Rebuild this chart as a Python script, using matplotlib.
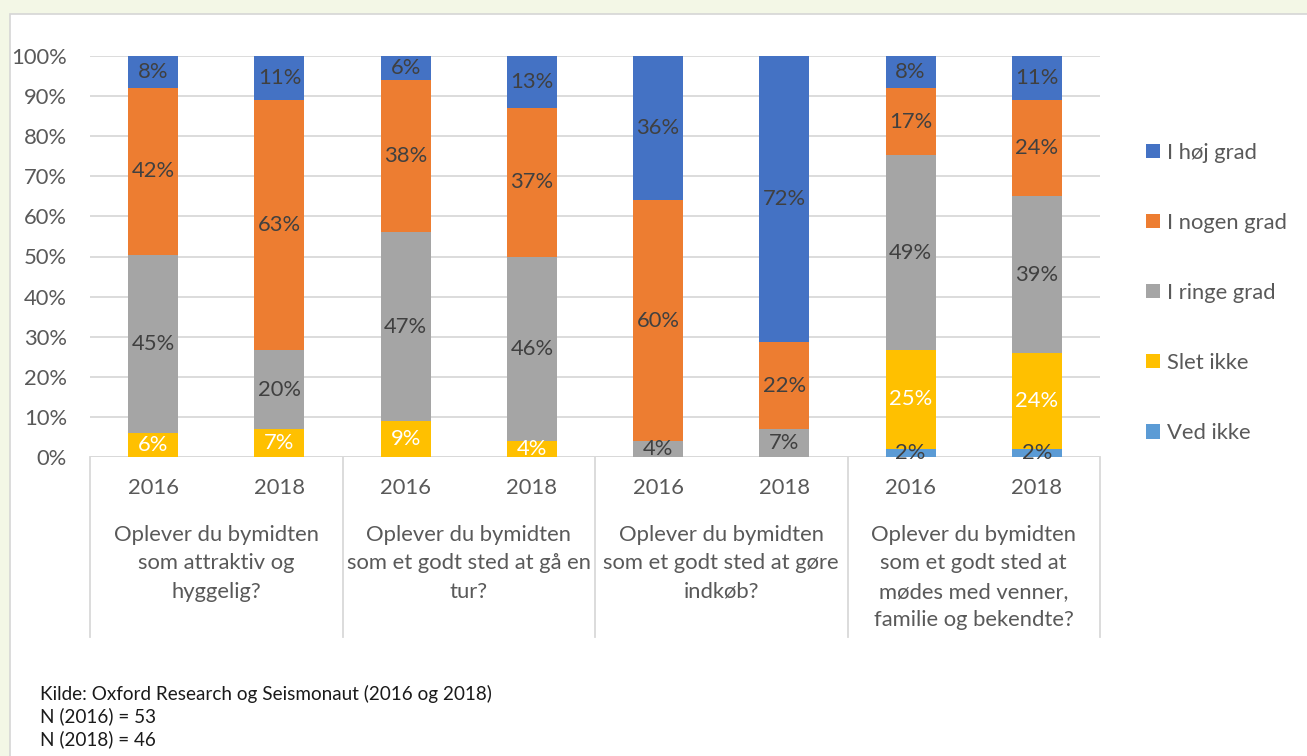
import matplotlib
matplotlib.use("Agg")
import matplotlib.pyplot as plt
from matplotlib.patches import Rectangle, Patch
import numpy as np

plt.rcParams['font.family'] = ['Lato', 'DejaVu Sans']

years = ["2016", "2018", "2016", "2018", "2016", "2018", "2016", "2018"]
groups = [
    "Oplever du bymidten\nsom attraktiv og\nhyggelig?",
    "Oplever du bymidten\nsom et godt sted at gå en\ntur?",
    "Oplever du bymidten\nsom et godt sted at gøre\nindkøb?",
    "Oplever du bymidten\nsom et godt sted at\nmødes med venner,\nfamilie og bekendte?",
]
series = ["Ved ikke", "Slet ikke", "I ringe grad", "I nogen grad", "I høj grad"]
ved_ikke = [0, 0, 0, 0, 0, 0, 2, 2]
slet_ikke = [6, 7, 9, 4, 0, 0, 25, 24]
ringe = [45, 20, 47, 46, 4, 7, 49, 39]
nogen = [42, 63, 38, 37, 60, 22, 17, 24]
hoej = [8, 11, 6, 13, 36, 72, 8, 11]
colors = ["#5b9bd5", "#ffc000", "#a5a5a5", "#ed7d31", "#4472c4"]
label_colors = ["#404040", "white", "#404040", "#404040", "#404040"]
footer = ["Kilde: Oxford Research og Seismonaut (2016 og 2018)", "N (2016) = 53", "N (2018) = 46"]

W, H = 1307, 756
fig = plt.figure(figsize=(W / 100, H / 100), dpi=100)
fig.patch.set_facecolor("#f3f7e6")

def fx(x):
    return x / W

def fy(y):
    return 1 - y / H

FS = 15.8

fig.patches.append(Rectangle((fx(10), -0.01), 1.0, fy(14) + 0.01, transform=fig.transFigure,
                             facecolor="white", edgecolor="#d6d6d6", linewidth=1.2, zorder=-10))

left, right, top, bottom = 90, 1100, 56, 457
ax = fig.add_axes([fx(left), fy(bottom), fx(right) - fx(left), fy(top) - fy(bottom)])
ax.set_facecolor("none")

data = np.array([ved_ikke, slet_ikke, ringe, nogen, hoej], dtype=float)
totals = data.sum(axis=0)
frac = data / totals * 100
x = np.arange(len(years))
base = np.zeros(len(years))
for i, name in enumerate(series):
    ax.bar(x, frac[i], bottom=base, width=0.395, color=colors[i], zorder=3, label=name)
    for j in range(len(years)):
        if data[i, j] > 0:
            ax.text(x[j], base[j] + frac[i, j] / 2, f"{int(data[i, j])}%", ha="center", va="center",
                    fontsize=FS, color=label_colors[i], zorder=4)
    base += frac[i]

ax.set_xlim(-0.5, len(years) - 0.5)
ax.set_ylim(0, 100)
ax.set_yticks(np.arange(0, 101, 10))
ax.set_yticklabels([f"{v}%" for v in range(0, 101, 10)], fontsize=FS, color="#595959")
ax.yaxis.grid(True, color="#d9d9d9", linewidth=1.3, zorder=0)
ax.tick_params(axis="y", length=0, pad=16.5)
ax.tick_params(axis="x", length=0)
ax.set_xticks([])
for s in ax.spines.values():
    s.set_visible(False)
ax.axhline(0, color="#d9d9d9", linewidth=1.3, zorder=2)

# group separators
for k in range(5):
    xp = left + k * (right - left) / 4
    fig.add_artist(plt.Line2D([fx(xp), fx(xp)], [fy(457), fy(637)], transform=fig.transFigure,
                              color="#d9d9d9", linewidth=1.3))

for j, yr in enumerate(years):
    xp = left + (j + 0.5) * (right - left) / len(years)
    fig.text(fx(xp), fy(488), yr, ha="center", va="center", fontsize=FS, color="#595959")

for g, lab in enumerate(groups):
    xp = left + (g + 0.5) * (right - left) / 4
    fig.text(fx(xp), fy(525), lab, ha="center", va="top", fontsize=FS, color="#595959",
             linespacing=1.53)

handles = [Patch(facecolor=colors[i], edgecolor="none", label=series[i]) for i in range(4, -1, -1)]
fig.legend(handles=handles, loc="upper left", bbox_to_anchor=(fx(1137), fy(134)), frameon=False,
           fontsize=FS, labelcolor="#595959", handlelength=0.65, handleheight=0.65,
           handletextpad=0.3, labelspacing=2.28, borderaxespad=0)

for k, line in enumerate(footer):
    fig.text(fx(40), fy(694 + k * 22.5), line, ha="left", va="center", fontsize=13.6, color="#1a1a1a")

fig.savefig("out.png", dpi=100, facecolor=fig.get_facecolor())
